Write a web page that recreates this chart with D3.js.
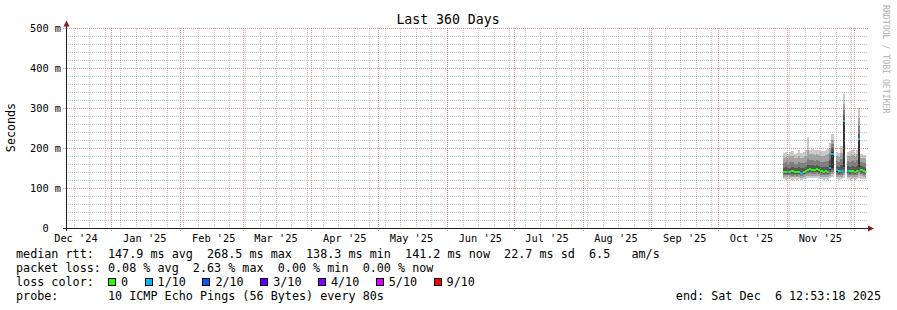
<!DOCTYPE html>
<html>
<head>
<meta charset="utf-8">
<script src="https://cdn.jsdelivr.net/npm/d3@7"></script>
<style>
  body { margin: 0; background: #fff; }
  text { font-family: "DejaVu Sans Mono", monospace; white-space: pre; }
</style>
</head>
<body>
<div id="chart"></div>
<script>
// one row per day, last 5+ weeks only (nothing recorded before that)
const days = ["2025-10-30","2025-10-31","2025-11-01","2025-11-02","2025-11-03","2025-11-04","2025-11-05",
  "2025-11-06","2025-11-07","2025-11-08","2025-11-09","2025-11-10","2025-11-11","2025-11-12","2025-11-13",
  "2025-11-14","2025-11-15","2025-11-16","2025-11-17","2025-11-18","2025-11-19","2025-11-20","2025-11-21",
  "2025-11-22","2025-11-23","2025-11-24","2025-11-25","2025-11-26","2025-11-27","2025-11-28","2025-11-29",
  "2025-11-30","2025-12-01","2025-12-02","2025-12-03","2025-12-04","2025-12-05","2025-12-06"];

// median rtt, ms
const median = [140.5,141.0,139.8,140.2,141.5,140.0,139.5,140.8,138.3,141.0,142.5,145.5,147.0,146.2,145.0,
  146.8,144.0,141.5,140.5,141.8,140.2,151.0,185.0,null,144.5,142.0,143.0,268.5,null,143.5,141.5,142.8,141.0,
  142.2,222.0,144.5,142.0,141.2];

// lost pings out of 10
const loss = [0,0,1,0,0,0,0,0,1,0,0,0,0,0,0,0,0,0,0,0,0,1,1,null,1,0,1,1,null,1,0,0,0,0,1,0,0,0];

// sorted ping times (ms) per day, used for the smoke
const pings = [
  [122,128,132,136,139,142,150,162,176,188],
  [121,127,132,136,140,143,152,165,178,190],
  [123,129,133,136,139,142,149,160,175,186],
  [122,128,132,136,139,143,151,164,177,189],
  [121,127,131,135,140,144,153,166,180,192],
  [122,128,132,136,139,142,150,161,174,185],
  [121,127,131,135,138,142,149,160,176,188],
  [122,128,132,136,140,143,152,166,181,195],
  [120,126,131,134,137,141,149,162,176,187],
  [122,128,132,136,140,143,151,163,177,189],
  [123,129,134,138,141,145,153,166,181,194],
  [124,130,136,140,144,148,158,172,195,228],
  [125,131,137,141,145,149,158,170,184,196],
  [124,130,136,140,144,148,157,170,185,197],
  [124,130,135,139,143,147,156,168,182,194],
  [125,131,137,141,145,149,158,171,185,196],
  [123,129,134,138,142,146,155,168,183,195],
  [122,128,133,137,140,144,153,166,181,193],
  [121,127,132,136,139,143,152,165,180,192],
  [122,128,133,137,140,144,153,167,182,195],
  [121,127,132,136,139,143,153,168,184,197],
  [124,130,136,141,146,156,170,185,200,212],
  [128,135,140,145,150,190,200,210,220,235],
  null,
  [122,128,133,137,141,146,155,168,180,190],
  [121,127,132,136,140,144,153,165,178,188],
  [122,128,133,137,141,146,157,172,188,205],
  [125,132,138,145,152,268,282,296,310,335],
  null,
  [122,128,133,137,141,145,154,167,179,189],
  [121,127,132,136,140,144,153,166,180,192],
  [122,128,133,137,141,145,155,168,183,196],
  [121,127,132,136,140,144,153,165,178,188],
  [122,128,133,137,141,146,156,170,184,194],
  [126,133,140,146,152,224,236,256,276,301],
  [123,129,134,138,142,147,155,166,176,184],
  [122,128,133,137,140,144,152,163,174,183],
  [121,127,132,136,140,143,151,162,173,182]
];

const yTicks = [0, 100, 200, 300, 400, 500];
const rttStats = ["147.9", "268.5", "138.3", "141.2", "22.7"];
const lossStats = ["0.08", "2.63", "0.00", "0.00"];
const lossSteps = [0, 1, 2, 3, 4, 5, 9];
const lossLabels = ["0", "1/10", "2/10", "3/10", "4/10", "5/10", "9/10"];
const lossColors = ["#26ff00", "#00b8ff", "#0059ff", "#5e00ff", "#7e00ff", "#dd00ff", "#ff0000"];
const smokeShades = ["#cacaca", "#a4a4a4", "#7e7e7e", "#585858", "#323232"];

const width = 897, height = 310;
const start = new Date(Date.UTC(2024, 11, 11, 12, 53, 18));
const end = new Date(Date.UTC(2025, 11, 6, 12, 53, 18));

const x = d3.scaleUtc().domain([start, end]).range([66, 866]);
const y = d3.scaleLinear().domain([0, 500]).range([228, 28]);
const lossColor = d3.scaleThreshold().domain(lossSteps.slice(1)).range(lossColors);

const svg = d3.select("#chart").append("svg")
    .attr("width", width)
    .attr("height", height)
    .attr("viewBox", [0, 0, width, height]);

svg.append("rect").attr("width", width).attr("height", height).attr("fill", "#fff");

const rows = days.map((d, i) => ({
    t0: new Date(d),
    t1: i < days.length - 1 ? new Date(days[i + 1]) : end,
    med: median[i], loss: loss[i], p: pings[i]
})).filter(r => r.p);

// smoke: outer pair lightest, inner pair darkest
const smoke = svg.append("g").attr("shape-rendering", "crispEdges");
smokeShades.forEach((c, i) => {
    smoke.append("g").selectAll("rect")
        .data(rows)
        .join("rect")
        .attr("x", r => x(r.t0))
        .attr("width", r => x(r.t1) - x(r.t0))
        .attr("y", r => y(r.p[9 - i]))
        .attr("height", r => y(r.p[i]) - y(r.p[9 - i]))
        .attr("fill", c);
});

svg.append("g").attr("shape-rendering", "crispEdges")
    .selectAll("rect")
    .data(rows)
    .join("rect")
    .attr("x", r => x(r.t0))
    .attr("width", r => x(r.t1) - x(r.t0))
    .attr("y", r => y(r.med) - 1)
    .attr("height", 2)
    .attr("fill", r => lossColor(r.loss));

// grid (rrdtool paints it over the graph)
const grid = svg.append("g")
    .attr("shape-rendering", "crispEdges")
    .attr("stroke-dasharray", "1,1")
    .attr("fill", "none");

const minorStroke = "rgba(140,140,140,0.5)", majorStroke = "rgba(225,70,70,0.6)";

grid.append("g").selectAll("line")
    .data(y.ticks(25).filter(v => !yTicks.includes(v)))
    .join("line")
    .attr("x1", 66).attr("x2", 868)
    .attr("y1", d => Math.round(y(d)) + 0.5).attr("y2", d => Math.round(y(d)) + 0.5)
    .attr("stroke", minorStroke);

grid.append("g").selectAll("line")
    .data(d3.utcSunday.range(start, end))
    .join("line")
    .attr("x1", d => Math.round(x(d)) + 0.5).attr("x2", d => Math.round(x(d)) + 0.5)
    .attr("y1", 28).attr("y2", 228)
    .attr("stroke", minorStroke);

grid.append("g").selectAll("line")
    .data(yTicks)
    .join("line")
    .attr("x1", 63).attr("x2", 868)
    .attr("y1", d => Math.round(y(d)) + 0.5).attr("y2", d => Math.round(y(d)) + 0.5)
    .attr("stroke", majorStroke);

const months = d3.utcMonth.range(start, end);
grid.append("g").selectAll("line")
    .data(months)
    .join("line")
    .attr("x1", d => Math.round(x(d)) + 0.5).attr("x2", d => Math.round(x(d)) + 0.5)
    .attr("y1", 28).attr("y2", 231)
    .attr("stroke", majorStroke);

// axes
const axis = svg.append("g").attr("shape-rendering", "crispEdges").attr("stroke", "#202020");
axis.append("line").attr("x1", 66.5).attr("x2", 66.5).attr("y1", 24).attr("y2", 231);
axis.append("line").attr("x1", 63).attr("x2", 869).attr("y1", 228.5).attr("y2", 228.5);
svg.append("path").attr("d", "M63.5,26.5L66.5,20.5L69.5,26.5Z").attr("fill", "#7f1f1f");
svg.append("path").attr("d", "M868,225.5L874,228.5L868,231.5Z").attr("fill", "#7f1f1f");

svg.append("g").selectAll("text")
    .data(yTicks)
    .join("text")
    .attr("x", 61)
    .attr("y", d => y(d) + 3.8)
    .attr("text-anchor", "end")
    .style("font-size", "10.3px")
    .text(d => d === 0 ? "0  " : `${d} m`);

const fmtMonth = d3.utcFormat("%b '%y");
svg.append("g").selectAll("text")
    .data(d3.utcMonth.range(d3.utcMonth.floor(start), end).map(m => d3.utcDay.offset(m, 15)).filter(d => d > start && d < end))
    .join("text")
    .attr("x", d => x(d))
    .attr("y", 241.5)
    .attr("text-anchor", "middle")
    .style("font-size", "10.3px")
    .text(d => fmtMonth(d3.utcMonth.floor(d)));

svg.append("text")
    .attr("x", 448).attr("y", 24)
    .attr("text-anchor", "middle")
    .style("font-size", "13.2px")
    .text("Last 360 Days");

svg.append("text")
    .attr("transform", "translate(15,127.5) rotate(-90)")
    .attr("text-anchor", "middle")
    .style("font-size", "11.7px")
    .text("Seconds");

svg.append("text")
    .attr("transform", "translate(883,5) rotate(90)")
    .attr("fill", "#b0b0b0")
    .style("font-size", "8.2px")
    .text("RRDTOOL / TOBI OETIKER");

// legend
const legend = svg.append("g").style("font-size", "11.75px");
const lx = 16;
legend.append("text").attr("x", lx).attr("y", 258)
    .text(`median rtt:  ${rttStats[0]} ms avg  ${rttStats[1]} ms max  ${rttStats[2]} ms min  ${rttStats[3]} ms now  ${rttStats[4]} ms sd  6.5   am/s`);
legend.append("text").attr("x", lx).attr("y", 272)
    .text(`packet loss: ${lossStats[0]} % avg  ${lossStats[1]} % max  ${lossStats[2]} % min  ${lossStats[3]} % now`);
legend.append("text").attr("x", lx).attr("y", 286).text("loss color:");
legend.append("text").attr("x", lx).attr("y", 300).text("probe:       10 ICMP Echo Pings (56 Bytes) every 80s");
legend.append("text").attr("x", 881).attr("y", 300).attr("text-anchor", "end").text("end: Sat Dec  6 12:53:18 2025");

let sx = 108;
lossLabels.forEach((lab, i) => {
    legend.append("rect")
        .attr("x", sx + 0.5).attr("y", 278.5)
        .attr("width", 7).attr("height", 7)
        .attr("fill", lossColors[i])
        .attr("stroke", "#000")
        .attr("shape-rendering", "crispEdges");
    const t = legend.append("text").attr("x", sx + 13).attr("y", 286).text(lab);
    sx = sx + 13 + t.node().getComputedTextLength() + 16.5;
});
</script>
</body>
</html>
